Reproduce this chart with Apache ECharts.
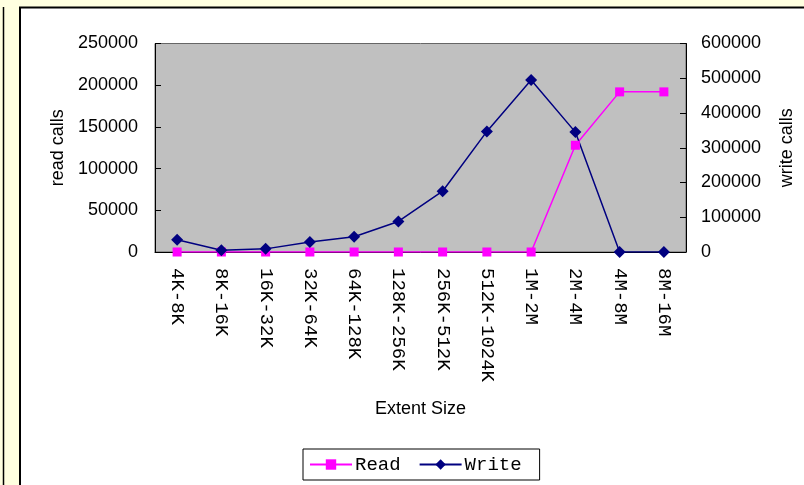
<!DOCTYPE html>
<html>
<head>
<meta charset="utf-8">
<script src="https://cdn.jsdelivr.net/npm/echarts@6/dist/echarts.min.js"></script>
<style>
  html, body { margin: 0; padding: 0; background: #FFFFE0; }
  #chart { width: 804px; height: 485px; }
</style>
</head>
<body>
<div id="chart"></div>
<script>
// Extent size buckets
const categories = ['4K-8K', '8K-16K', '16K-32K', '32K-64K', '64K-128K', '128K-256K',
  '256K-512K', '512K-1024K', '1M-2M', '2M-4M', '4M-8M', '8M-16M'];
// Read calls per bucket (left axis)
const readCalls = [0, 0, 0, 0, 0, 0, 0, 0, 0, 128000, 192000, 192000];
// Write calls per bucket (right axis)
const writeCalls = [35000, 5000, 9000, 29000, 44000, 88000, 175000, 347000, 495000, 345000, 0, 0];
// Axis ranges
const readAxis = { min: 0, max: 250000, step: 50000 };
const writeAxis = { min: 0, max: 600000, step: 100000 };

const sans = '"Liberation Sans", Arial, sans-serif';
const mono = '"Liberation Mono", "DejaVu Sans Mono", monospace';
const plain = v => String(v);

const chart = echarts.init(document.getElementById('chart'), null, { renderer: 'canvas' });

chart.setOption({
  backgroundColor: '#FFFFE0',
  animation: false,
  graphic: [
    { type: 'line', shape: { x1: 3.5, y1: 7, x2: 3.5, y2: 490 },
      style: { stroke: '#000', lineWidth: 1.5 }, silent: true },
    { type: 'rect', shape: { x: 20, y: 7.5, width: 800, height: 490 },
      style: { fill: '#FFFFFF', stroke: '#000', lineWidth: 2 }, silent: true, z: -10 }
  ],
  grid: {
    left: 155, top: 43.5, right: 117, bottom: 233,
    show: true, backgroundColor: '#C0C0C0', borderColor: '#666', borderWidth: 1
  },
  legend: {
    left: 303, top: 449,
    data: ['Read', 'Write'],
    backgroundColor: '#FFFFFF', borderColor: '#000', borderWidth: 1,
    padding: [6, 18, 6, 6],
    itemWidth: 42, itemHeight: 13, itemGap: 18,
    textStyle: { fontFamily: mono, fontSize: 19, color: '#000', padding: [0, 0, 0, -2] }
  },
  xAxis: {
    type: 'category',
    data: categories,
    boundaryGap: true,
    name: 'Extent Size',
    nameLocation: 'middle',
    nameGap: 148,
    nameTextStyle: { fontFamily: sans, fontSize: 18, color: '#000' },
    axisLine: { lineStyle: { color: '#000', width: 1 } },
    axisTick: { inside: true, length: 7, lineStyle: { color: '#000' } },
    axisLabel: { rotate: -90, margin: 16, fontFamily: mono, fontSize: 19, color: '#000', interval: 0 },
    splitLine: { show: false }
  },
  yAxis: [
    {
      type: 'value',
      min: readAxis.min, max: readAxis.max, interval: readAxis.step,
      position: 'left',
      name: 'read calls',
      nameLocation: 'middle',
      nameRotate: 90,
      nameGap: 87,
      nameTextStyle: { fontFamily: sans, fontSize: 18, color: '#000' },
      axisLine: { show: true, lineStyle: { color: '#000', width: 1 } },
      axisTick: { show: true, inside: true, length: 6, lineStyle: { color: '#000' } },
      axisLabel: { margin: 17, fontFamily: sans, fontSize: 18, color: '#000', formatter: plain },
      splitLine: { show: false }
    },
    {
      type: 'value',
      min: writeAxis.min, max: writeAxis.max, interval: writeAxis.step,
      position: 'right',
      name: 'write calls',
      nameLocation: 'middle',
      nameRotate: 90,
      nameGap: 92,
      nameTextStyle: { fontFamily: sans, fontSize: 18, color: '#000' },
      axisLine: { show: true, lineStyle: { color: '#000', width: 1 } },
      axisTick: { show: true, inside: true, length: 6, lineStyle: { color: '#000' } },
      axisLabel: { margin: 15, fontFamily: sans, fontSize: 18, color: '#000', formatter: plain },
      splitLine: { show: false }
    }
  ],
  series: [
    {
      name: 'Read',
      type: 'line',
      yAxisIndex: 0,
      data: readCalls,
      symbol: 'rect',
      symbolSize: 9,
      showAllSymbol: true,
      color: '#FF00FF',
      lineStyle: { color: '#FF00FF', width: 1.5 },
      itemStyle: { color: '#FF00FF' }
    },
    {
      name: 'Write',
      type: 'line',
      yAxisIndex: 1,
      data: writeCalls,
      symbol: 'diamond',
      symbolSize: 12,
      showAllSymbol: true,
      color: '#000080',
      lineStyle: { color: '#000080', width: 1.5 },
      itemStyle: { color: '#000080' }
    }
  ]
});
</script>
</body>
</html>
